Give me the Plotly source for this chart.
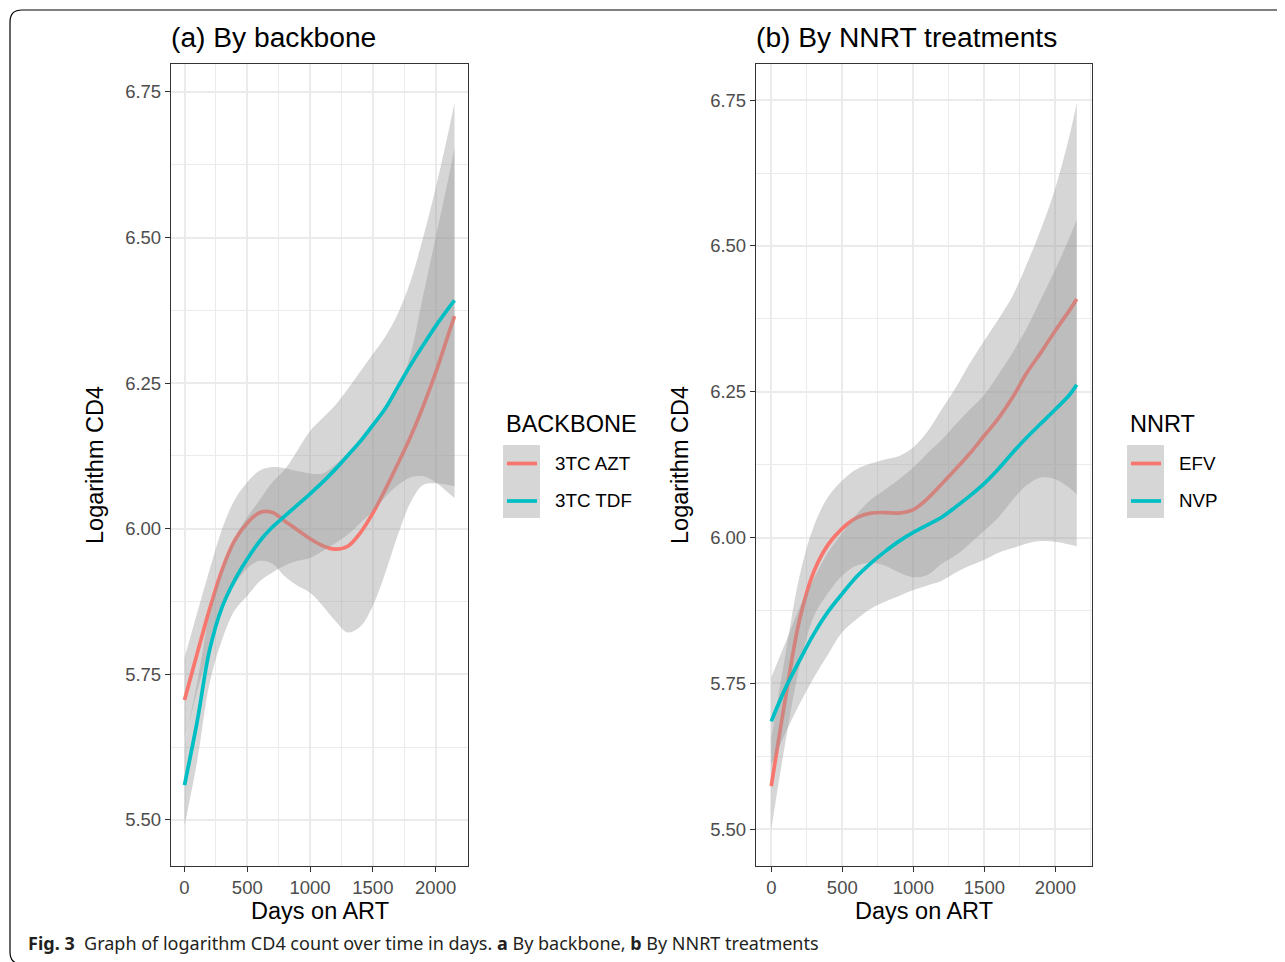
import plotly.graph_objects as go

# ---------------- data ----------------
DAYS = [0, 100, 200, 300, 400, 500, 600, 700, 800, 900, 1000, 1100,
        1200, 1300, 1400, 1500, 1600, 1700, 1800, 1900, 2000, 2100, 2150]

# Panel (a): by backbone
AZT_FIT = [5.706, 5.785, 5.862, 5.930, 5.980, 6.010, 6.028, 6.028, 6.013, 5.998, 5.983, 5.971,
           5.965, 5.970, 5.993, 6.027, 6.068, 6.112, 6.158, 6.210, 6.268, 6.333, 6.365]
AZT_LO = [5.634, 5.720, 5.795, 5.865, 5.905, 5.932, 5.945, 5.940, 5.918, 5.902, 5.890, 5.868,
          5.842, 5.822, 5.832, 5.868, 5.925, 5.990, 6.045, 6.075, 6.078, 6.075, 6.073]
AZT_HI = [5.778, 5.855, 5.930, 6.000, 6.050, 6.080, 6.100, 6.106, 6.104, 6.099, 6.095, 6.095,
          6.110, 6.130, 6.155, 6.180, 6.205, 6.240, 6.300, 6.400, 6.500, 6.600, 6.654]
TDF_FIT = [5.560, 5.668, 5.792, 5.866, 5.912, 5.948, 5.979, 6.003, 6.022, 6.041, 6.060, 6.080,
           6.102, 6.126, 6.150, 6.178, 6.207, 6.244, 6.281, 6.315, 6.348, 6.378, 6.392]
TDF_LO = [5.490, 5.600, 5.735, 5.810, 5.860, 5.885, 5.910, 5.925, 5.937, 5.945, 5.950, 5.962,
          5.975, 5.990, 6.010, 6.030, 6.055, 6.075, 6.088, 6.090, 6.080, 6.062, 6.053]
TDF_HI = [5.630, 5.735, 5.855, 5.935, 5.985, 6.020, 6.050, 6.080, 6.102, 6.135, 6.168, 6.190,
          6.212, 6.240, 6.270, 6.300, 6.330, 6.370, 6.425, 6.500, 6.585, 6.680, 6.731]

# Panel (b): by NNRT
EFV_FIT = [5.574, 5.725, 5.860, 5.942, 5.988, 6.016, 6.034, 6.042, 6.043, 6.042, 6.048, 6.067,
           6.092, 6.118, 6.145, 6.175, 6.205, 6.241, 6.283, 6.318, 6.355, 6.390, 6.409]
EFV_LO = [5.500, 5.650, 5.780, 5.865, 5.905, 5.935, 5.952, 5.957, 5.952, 5.940, 5.932, 5.936,
          5.955, 5.970, 5.990, 6.012, 6.035, 6.065, 6.090, 6.103, 6.100, 6.085, 6.074]
EFV_HI = [5.655, 5.800, 5.935, 6.020, 6.070, 6.098, 6.117, 6.127, 6.134, 6.140, 6.155, 6.182,
          6.220, 6.258, 6.300, 6.338, 6.375, 6.415, 6.470, 6.530, 6.600, 6.690, 6.745]
NVP_FIT = [5.685, 5.742, 5.790, 5.835, 5.873, 5.904, 5.933, 5.956, 5.976, 5.994, 6.009, 6.022,
           6.035, 6.053, 6.072, 6.093, 6.118, 6.146, 6.172, 6.196, 6.220, 6.245, 6.262]
NVP_LO = [5.610, 5.665, 5.715, 5.760, 5.800, 5.838, 5.860, 5.878, 5.890, 5.900, 5.910, 5.918,
          5.926, 5.940, 5.952, 5.962, 5.974, 5.982, 5.990, 5.994, 5.993, 5.988, 5.985]
NVP_HI = [5.760, 5.820, 5.880, 5.930, 5.975, 6.008, 6.040, 6.065, 6.082, 6.100, 6.120, 6.145,
          6.168, 6.195, 6.220, 6.245, 6.280, 6.318, 6.360, 6.410, 6.460, 6.515, 6.545]

X_TICKS = [0, 500, 1000, 1500, 2000]
X_TICK_LABELS = ["0", "500", "1000", "1500", "2000"]
Y_TICKS = [5.50, 5.75, 6.00, 6.25, 6.50, 6.75]
Y_TICK_LABELS = ["5.50", "5.75", "6.00", "6.25", "6.50", "6.75"]

BACKBONE_LABELS = ["3TC AZT", "3TC TDF"]
NNRT_LABELS = ["EFV", "NVP"]

# ---------------- styling ----------------
OFF = 8                      # page body margin of the browser
W, H = 1285 - OFF, 962 - OFF
FONT = "Liberation Sans, Arial, sans-serif"
RED = "#F8766D"
CYAN = "#00BFC4"
RIBBON = "rgba(153,153,153,0.4)"
LINE_W = 3.7
SMOOTH = 1.0


def fx(p):
    return (p - OFF) / W


def fy(p):
    return 1 - (p - OFF) / H


fig = go.Figure()


def add_group(xa, ya, fit, lo, hi, color):
    fig.add_trace(go.Scatter(
        x=DAYS, y=lo, mode="lines",
        line=dict(width=0, color="rgba(0,0,0,0)", shape="spline", smoothing=SMOOTH),
        hoverinfo="skip", showlegend=False, xaxis=xa, yaxis=ya))
    fig.add_trace(go.Scatter(
        x=DAYS, y=hi, mode="lines", fill="tonexty", fillcolor=RIBBON,
        line=dict(width=0, color="rgba(0,0,0,0)", shape="spline", smoothing=SMOOTH),
        hoverinfo="skip", showlegend=False, xaxis=xa, yaxis=ya))
    fig.add_trace(go.Scatter(
        x=DAYS, y=fit, mode="lines",
        line=dict(color=color, width=LINE_W, shape="spline", smoothing=SMOOTH),
        showlegend=False, xaxis=xa, yaxis=ya))


add_group("x", "y", AZT_FIT, AZT_LO, AZT_HI, RED)
add_group("x", "y", TDF_FIT, TDF_LO, TDF_HI, CYAN)
add_group("x2", "y2", EFV_FIT, EFV_LO, EFV_HI, RED)
add_group("x2", "y2", NVP_FIT, NVP_LO, NVP_HI, CYAN)

axis_common = dict(
    showline=True, linecolor="#333333", linewidth=1.3, mirror=True,
    ticks="outside", ticklen=5, tickwidth=1.3, tickcolor="#333333",
    showgrid=True, gridcolor="#ebebeb", gridwidth=1.8, zeroline=False,
    tickfont=dict(family=FONT, size=18.5, color="#4d4d4d"),
)

xcommon = dict(axis_common, range=[-107.5, 2257.5], tickmode="array",
               tickvals=X_TICKS, ticktext=X_TICK_LABELS,
               minor=dict(dtick=250, tick0=0, showgrid=True, gridcolor="#ebebeb",
                          gridwidth=0.9, ticks=""))
ycommon = dict(axis_common, tickmode="array", tickvals=Y_TICKS, ticktext=Y_TICK_LABELS,
               minor=dict(dtick=0.125, tick0=5.5, showgrid=True, gridcolor="#ebebeb",
                          gridwidth=0.9, ticks=""))

ydom = [fy(866), fy(64)]
fig.update_layout(
    width=W, height=H, autosize=False,
    margin=dict(l=0, r=0, t=0, b=0, pad=0),
    paper_bgcolor="white", plot_bgcolor="white", showlegend=False,
    xaxis=dict(xcommon, domain=[fx(171), fx(468)], anchor="y"),
    yaxis=dict(ycommon, domain=ydom, anchor="x", range=[5.421, 6.798]),
    xaxis2=dict(xcommon, domain=[fx(756), fx(1092)], anchor="y2"),
    yaxis2=dict(ycommon, domain=ydom, anchor="x2", range=[5.437, 6.812]),
)

ann = []
shapes = []


def text(x, y, s, size, color="black", xanchor="left", angle=0, family=FONT):
    ann.append(dict(x=fx(x), y=fy(y), xref="paper", yref="paper", text=s,
                    showarrow=False, xanchor=xanchor, yanchor="middle",
                    textangle=angle, font=dict(family=family, size=size, color=color)))


# panel titles
text(169, 37, "(a) By backbone", 28.2)
text(754, 37, "(b) By NNRT treatments", 28.2)
# axis titles
text(319.5, 911, "Days on ART", 23.5, xanchor="center")
text(924, 911, "Days on ART", 23.5, xanchor="center")
text(95, 465, "Logarithm CD4", 23.5, xanchor="center", angle=-90)
text(680, 465, "Logarithm CD4", 23.5, xanchor="center", angle=-90)


def legend(x0, title, labels):
    text(x0, 424, title, 23.5)
    shapes.append(dict(type="rect", xref="paper", yref="paper",
                       x0=fx(x0 - 1), x1=fx(x0 + 36), y0=fy(518), y1=fy(445),
                       fillcolor="#d6d6d6", line=dict(width=0), layer="above"))
    for i, (lab, col) in enumerate(zip(labels, [RED, CYAN])):
        yy = 463.5 + 37.5 * i
        shapes.append(dict(type="line", xref="paper", yref="paper",
                           x0=fx(x0 + 3), x1=fx(x0 + 33), y0=fy(yy), y1=fy(yy),
                           line=dict(color=col, width=LINE_W), layer="above"))
        text(x0 + 49, yy, lab, 18.8)


legend(504, "BACKBONE", BACKBONE_LABELS)
legend(1128, "NNRT", NNRT_LABELS)

# caption
text(26, 943, "<b>Fig. 3</b>\u00a0\u00a0Graph of logarithm CD4 count over time in days. "
     "<b>a</b> By backbone, <b>b</b> By NNRT treatments", 18, color="#231f20",
     family="Noto Sans, Open Sans, sans-serif")


# rounded outer frame (left/top visible)
def P(x, y):
    return f"{fx(x):.5f},{fy(y):.5f}"


frame = (f"M {P(1300, 964)} L {P(22, 964)} Q {P(10, 964)} {P(10, 952)} "
         f"L {P(10, 22)} Q {P(10, 10)} {P(22, 10)} L {P(1300, 10)}")
shapes.append(dict(type="path", xref="paper", yref="paper", path=frame,
                   line=dict(color="black", width=1.2), layer="above"))

fig.update_layout(annotations=ann, shapes=shapes)
fig.write_html("out.html")
